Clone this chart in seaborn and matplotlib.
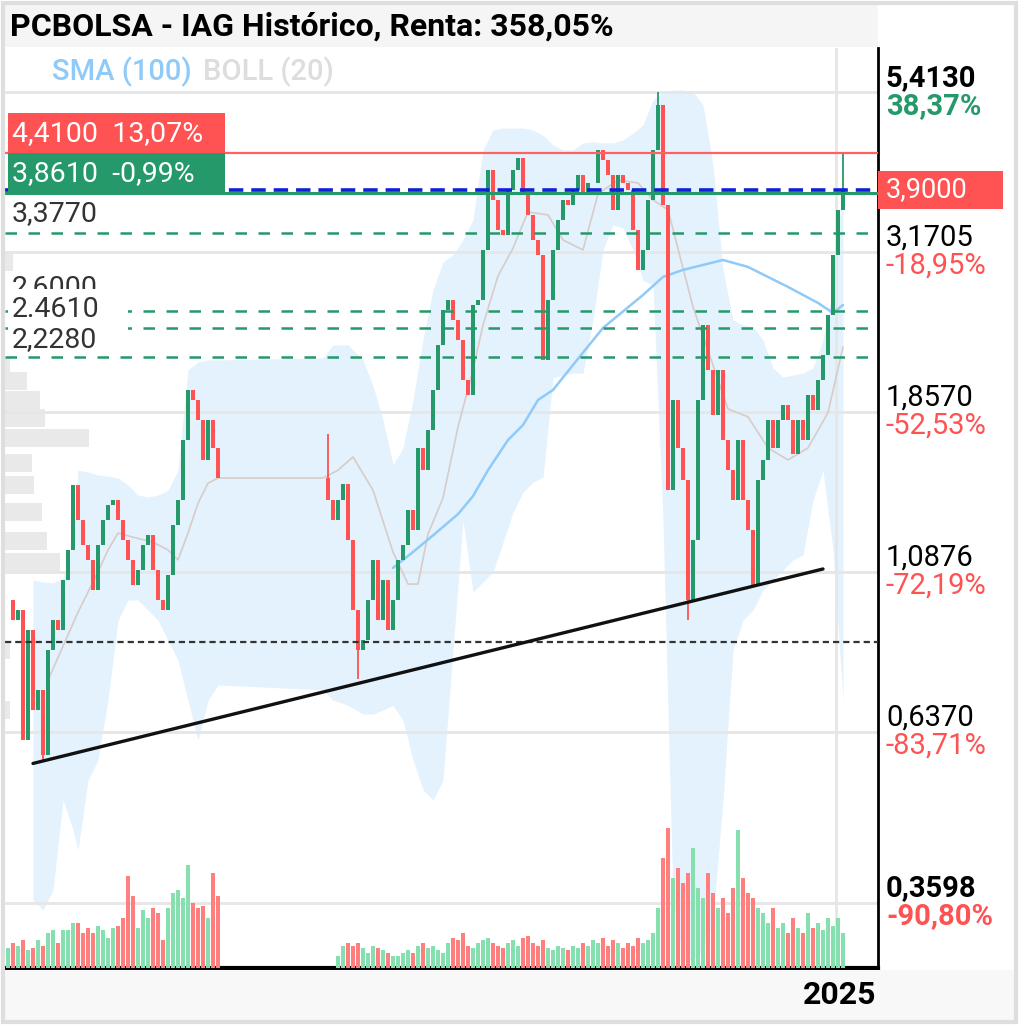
"""IAG historical chart, PCBOLSA style."""

import matplotlib.pyplot as plt
import numpy as np
import pandas as pd
import seaborn as sns
from matplotlib.patches import Rectangle

sns.set_theme(style="white")
plt.rcParams["font.family"] = ["Roboto", "DejaVu Sans"]

# DATA (one slot per bar, None = no quotes)
closes = [
    0.990, 0.925, 0.957, 0.619, 0.895, 0.685, 0.733, 0.589, 0.837, 0.925,
    0.895, 1.058, 1.170, 1.454, 1.294, 1.189, 1.132, 1.023, 1.189, 1.294,
    1.359, 1.382, 1.294, 1.209, 1.132, 1.040, 1.094, 1.189, 1.229, 1.094,
    0.990, 0.957, 1.075, 1.272, 1.382, 1.690, 1.998, 1.932, 1.807, 1.581,
    1.807, 1.646, 1.488,
    None, None, None, None, None, None, None, None, None, None, None,
    None, None, None, None, None, None, None, None, None, None,
    1.382, 1.294, 1.382, 1.458, 1.209, 0.957,
    0.837, 0.866, 0.990, 1.132, 0.925, 1.058, 0.895, 0.990, 1.132, 1.189,
    1.337, 1.251, 1.646, 1.528, 1.748, 1.998, 2.323, 2.611, 2.700, 2.525,
    2.362, 2.066, 1.965, 2.655, 2.700, 3.191, 4.170, 3.772, 3.412, 3.356,
    3.900, 4.170, 4.341, 3.849, 3.588, 3.300, 3.140, 2.209, 2.700, 3.191,
    3.528, 3.772, 3.709, 3.900, 4.100, 3.849, 3.992, 3.992, 4.459, 4.312,
    4.100, 3.649, 4.100, 3.992, 3.900, 3.412, 2.985, 3.191, 3.772, 4.459,
    5.182, 3.709, 1.429, 1.932, 1.646, 1.478, 0.990, 1.209, 1.932, 2.483,
    2.136, 1.838, 2.136, 1.690, 1.528, 1.382, 1.690, 1.382, 1.251, 1.040,
    1.478, 1.581, 1.807, 1.646, 1.807, 1.900, 1.807, 1.613, 1.807, 1.690,
    1.965, 1.868, 2.066, 2.245, 2.570, 3.140, 3.649, 3.900,
]
volumes = [
    20, 25, 22, 28, 18, 20, 28, 22, 35, 38,
    25, 38, 38, 45, 45, 35, 40, 35, 42, 38,
    30, 40, 42, 50, 92, 72, 40, 58, 50, 60,
    55, 28, 60, 75, 78, 70, 103, 65, 60, 62,
    50, 95, 72,
    None, None, None, None, None, None, None, None, None, None, None,
    None, None, None, None, None, None, None, None, None, None,
    0, 0, 12, 22, 25, 22,
    25, 20, 15, 22, 20, 18, 15, 12, 12, 15,
    18, 15, 22, 25, 20, 22, 18, 15, 25, 30,
    28, 35, 22, 20, 25, 28, 30, 25, 22, 20,
    25, 28, 22, 30, 32, 25, 22, 28, 20, 18,
    22, 20, 18, 22, 20, 25, 22, 28, 25, 30,
    22, 28, 25, 20, 25, 22, 30, 25, 28, 35,
    60, 110, 140, 90, 100, 85, 95, 120, 80, 70,
    95, 75, 60, 70, 55, 80, 138, 90, 75, 70,
    60, 55, 45, 60, 40, 45, 35, 50, 40, 35,
    55, 40, 45, 38, 50, 42, 50, 35,
]
wick_idx = [7, 64, 70, 130, 136, 167]
wick_lo = [0.575, 1.382, 0.760, 4.459, 0.925, 3.649]
wick_hi = [0.733, 1.725, 0.957, 5.413, 1.478, 4.410]

band_idx = [5, 7, 9, 11, 13, 14, 16, 18, 20, 22, 24, 26, 28, 30, 32, 34, 36, 38, 40, 42,
            63, 65, 68, 71, 73, 75, 77, 79, 81, 83, 85, 87, 89, 91, 93, 95, 97, 99, 101,
            103, 105, 107, 109, 111, 113, 115, 117, 119, 121, 123, 125, 127, 129, 131,
            133, 135, 137, 139, 141, 143, 145, 147, 149, 151, 153, 155, 157, 159, 161,
            163, 165, 167]
band_upper = [1.058, 1.051, 1.048, 1.065, 1.209, 1.528, 1.518, 1.503, 1.498, 1.488,
              1.454, 1.406, 1.396, 1.406, 1.429, 1.528, 2.136, 2.194, 2.209, 2.209,
              2.224, 2.323, 2.323, 2.209, 2.025, 1.807, 1.555, 1.646, 1.932, 2.362,
              2.791, 3.066, 3.140, 3.300, 3.528, 4.459, 4.766, 4.798, 4.798, 4.798,
              4.766, 4.684, 4.534, 4.459, 4.459, 4.564, 4.580, 4.564, 4.564, 4.611,
              4.716, 4.847, 5.270, 5.413, 5.449, 5.449, 5.413, 5.182, 4.240, 2.985,
              2.525, 2.483, 2.467, 2.362, 2.151, 2.086, 2.100, 2.114, 2.151, 2.362,
              2.791, 4.032]
band_lower = [0.363, 0.351, 0.375, 0.507, 0.459, 0.429, 0.542, 0.580, 0.708, 0.925,
              0.990, 0.990, 0.957, 0.925, 0.866, 0.809, 0.708, 0.619, 0.708, 0.745,
              0.733, 0.708, 0.696, 0.676, 0.676, 0.685, 0.696, 0.662, 0.580, 0.525,
              0.507, 0.542, 0.837, 1.294, 1.016, 1.051, 1.087, 1.201, 1.328, 1.420,
              1.468, 1.493, 2.080, 2.100, 2.114, 2.114, 2.525, 3.191, 3.470, 3.435,
              3.191, 2.880, 2.839, 1.294, 0.363, 0.297, 0.297, 0.307, 0.340, 0.507,
              0.837, 0.925, 0.957, 1.023, 1.058, 1.094, 1.132, 1.151, 1.382, 1.528,
              1.170, 0.708]
mid_idx = [8, 14, 18, 20, 22, 25, 29, 32, 34, 36, 38, 40, 42, 63, 66, 69, 73, 77, 80, 82,
           84, 87, 90, 93, 95, 98, 101, 104, 108, 111, 115, 118, 122, 126, 129, 132,
           137, 144, 148, 152, 156, 160, 164, 167]
mid_vals = [0.757, 0.950, 1.087, 1.170, 1.238, 1.221, 1.201, 1.170, 1.132, 1.238,
            1.368, 1.463, 1.488, 1.488, 1.528, 1.597, 1.429, 1.162, 1.044, 1.044,
            1.234, 1.392, 1.766, 2.136, 2.483, 2.925, 3.210, 3.624, 3.588, 3.300,
            3.191, 3.849, 4.032, 3.992, 3.772, 3.649, 2.638, 1.875, 1.826, 1.646,
            1.581, 1.646, 1.852, 2.308]
sma_idx = [77, 81, 86, 90, 93, 96, 100, 103, 106, 109, 113, 119, 127, 131, 135, 143,
           148, 156, 162, 165, 167]
sma_vals = [1.102, 1.162, 1.246, 1.319, 1.401, 1.528, 1.690, 1.777, 1.932, 1.998,
            2.172, 2.459, 2.745, 2.916, 2.985, 3.086, 3.015, 2.820, 2.673, 2.585, 2.655]

profile_price = [3.066, 2.165, 2.059, 1.932, 1.821, 1.701, 1.565, 1.454, 1.328,
                 1.205, 1.124, 0.837, 0.685]
profile_vol = [8, 5, 22, 35, 40, 84, 27, 29, 37, 42, 55, 5, 5]

trend_idx = [5, 163]
trend_vals = [0.573, 1.098]

grid_levels = [5.413, 3.1705, 1.857, 1.0876, 0.637, 0.3598]
grid_prices = ["5,4130", "3,1705", "1,8570", "1,0876", "0,6370", "0,3598"]
grid_pcts = ["38,37%", "-18,95%", "-52,53%", "-72,19%", "-83,71%", "-90,80%"]

dashed_levels = [3.377, 2.6, 2.461, 2.228]
dashed_labels = ["3,3770", "2,6000", "2.4610", "2,2280"]
target_level, target_text = 4.41, "4,4100  13,07%"
entry_level, entry_text = 3.861, "3,8610  -0,99%"
last_price, last_text = 3.90, "3,9000"
support_level = 0.86
year_pos, year_text = 165.6, "2025"
title = "PCBOLSA - IAG Histórico, Renta: 358,05%"

GREEN = "#26996b"
RED = "#ff5252"
VOL_GREEN = "#86dfae"
VOL_RED = "#ff7f7f"
BAND = "#e3f2fd"
SMA_BLUE = "#90caf9"
MID_GRAY = "#d7ccc8"
GRID = "#e6e6e6"

W, H = 1020, 1025

# PLOT
df = pd.DataFrame({"close": closes, "volume": volumes}, dtype=float)
df["open"] = df["close"].ffill().shift(1).fillna(df["close"])
df = df.dropna(subset=["close"])
rising = df["close"] >= df["open"]

fig = plt.figure(figsize=(W / 100, H / 100), dpi=100)
ax = fig.add_axes([5 / W, 1 - 968 / H, 873 / W, 920 / H])
ax.set_yscale("log")
ax.set_ylim(0.2891, 6.27)
ax.set_xlim(-0.6, 174)
ax_prof = ax.twiny()
ax_vol = ax.twinx()
ax_prof.set_zorder(0)
ax.set_zorder(1)
ax_vol.set_zorder(2)
ax_prof.patch.set_visible(True)
ax_prof.patch.set_facecolor("white")
ax.patch.set_visible(False)
ax_vol.patch.set_visible(False)

# volume profile
ax_prof.set_xlim(0, 873)
prof = np.array(profile_price)
ax_prof.barh(prof * 0.97, profile_vol, height=prof * 0.06, align="edge",
             color="#e9e9e9", linewidth=0)

# bollinger + sma
ax.fill_between(band_idx, band_lower, band_upper, color=BAND, linewidth=0, zorder=1)
for lvl in grid_levels:
    ax.axhline(lvl, color=GRID, lw=2, zorder=2)
ax.axvline(year_pos, color=GRID, lw=2, zorder=2)
sns.lineplot(x=mid_idx, y=mid_vals, ax=ax, color=MID_GRAY, lw=1.2, zorder=3)
sns.lineplot(x=sma_idx, y=sma_vals, ax=ax, color=SMA_BLUE, lw=1.8, zorder=3)

# candles
wick_colors = np.where(rising.loc[wick_idx], GREEN, RED)
ax.vlines(wick_idx, wick_lo, wick_hi, color=wick_colors, lw=1.3, zorder=4)
ax.bar(df.index, df["close"] - df["open"], bottom=df["open"], width=0.75,
       color=np.where(rising, GREEN, RED), linewidth=0, zorder=4)

# levels
ax.axhline(target_level, color="#ff6262", lw=1.6, zorder=5)
ax.axhline(entry_level, color=GREEN, lw=2.2, zorder=5)
ax.axhline(last_price, color="#1020d8", lw=2.6, ls=(0, (4, 2.2)), zorder=6)
for lvl in dashed_levels:
    ax.axhline(lvl, color=GREEN, lw=1.8, ls=(0, (4.6, 4.6)), zorder=5)
ax.axhline(support_level, color="#333333", lw=1.6, ls=(0, (2.8, 1.8)), zorder=5)
sns.lineplot(x=trend_idx, y=trend_vals, ax=ax, color="#111111", lw=2.4, zorder=6)

# volume
ax_vol.set_ylim(0, 920)
ax_vol.bar(df.index, df["volume"], width=0.75,
           color=np.where(rising, VOL_GREEN, VOL_RED), linewidth=0)

for a in (ax, ax_prof, ax_vol):
    a.set_xticks([])
    a.set_yticks([])
    a.set_yticks([], minor=True)
    a.set_xlabel("")
    a.set_ylabel("")
    for s in a.spines.values():
        s.set_visible(False)
ax.spines["right"].set_visible(True)
ax.spines["right"].set_color("black")
ax.spines["right"].set_linewidth(2)
ax.spines["bottom"].set_visible(True)
ax.spines["bottom"].set_color("black")
ax.spines["bottom"].set_linewidth(3)


def ydisp(p):
    return ax.transData.transform((0, p))[1]


def box(x0, y0, w, h, z=10, **kw):
    fig.add_artist(Rectangle((x0 / W, y0 / H), w / W, h / H,
                             transform=fig.transFigure, zorder=z, **kw))


def label(x, y, s, z=11, **kw):
    fig.text(x / W, y / H, s, va="center", zorder=z, **kw)


# frame, title bar, bottom bar
box(5, H - 47, 873, 42, facecolor="#f5f5f5", linewidth=0)
box(5, 5, 1010, H - 970 - 5, facecolor="#f8f8f8", linewidth=0)
box(3, 3, 1013, H - 6, facecolor="none", edgecolor="#dedede", linewidth=3)
label(10, H - 27, title, fontsize=23, weight="bold", color="black")
label(52, H - 72, "SMA (100)", fontsize=21, weight="medium", color=SMA_BLUE)
label(203, H - 72, "BOLL (20)", fontsize=21, weight="medium", color="#dddddd")
label(840, H - 995, year_text, fontsize=23, weight="bold", color="black", ha="center")

# right price scale
for k, (lvl, ptxt, pct) in enumerate(zip(grid_levels, grid_prices, grid_pcts)):
    y = ydisp(lvl)
    weight = "bold" if k in (0, len(grid_levels) - 1) else "normal"
    label(886, y + 14, ptxt, fontsize=21, weight=weight, color="black")
    label(886, y - 14, pct, fontsize=21, weight=weight,
          color=GREEN if not pct.startswith("-") else RED)
y = ydisp(last_price)
box(878, y - 19, 125, 38, facecolor=RED, linewidth=0)
label(886, y, last_text, fontsize=19.5, color="white")

# left level tags
y_t, y_e = ydisp(target_level), ydisp(entry_level)
box(8, y_t, 217, 40, facecolor=RED, linewidth=0)
label(12, y_t + 20, target_text, fontsize=20.5, color="white")
box(8, y_e, 217, y_t - y_e, facecolor=GREEN, linewidth=0)
label(12, (y_t + y_e) / 2, entry_text, fontsize=20.5, color="white")

label(12, ydisp(dashed_levels[0]) + 19, dashed_labels[0], fontsize=20.5, color="#333333")
label(12, ydisp(dashed_levels[1]) + 24, dashed_labels[1], z=9.5, fontsize=20.5,
      color="#333333")
y = ydisp(dashed_levels[2])
box(8, y + 3, 120, 36, facecolor="white", linewidth=0)
label(12, y + 18, dashed_labels[2], fontsize=20.5, color="#333333")
y = ydisp(dashed_levels[3])
box(8, y + 3, 120, 29, facecolor="white", linewidth=0)
label(12, y + 18, dashed_labels[3], fontsize=20.5, color="#333333")

fig.savefig("out.png", dpi=100)
